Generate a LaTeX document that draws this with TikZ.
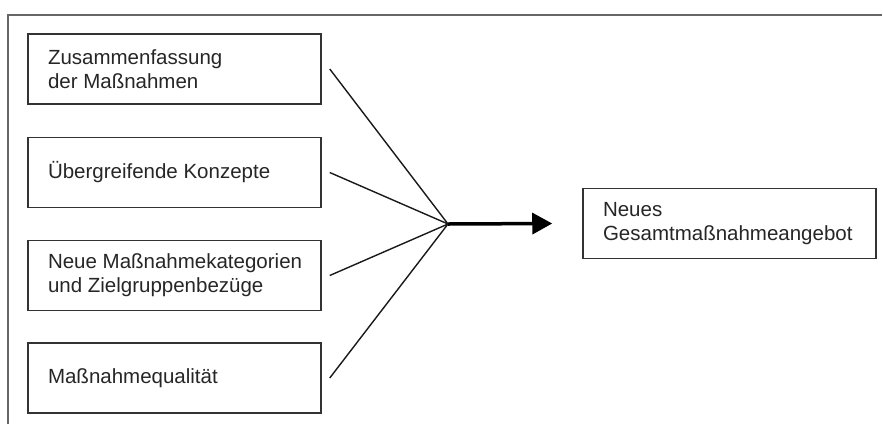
\documentclass[tikz,border=0pt]{standalone}
\usepackage{fontspec}
\setmainfont{Liberation Sans}
\usetikzlibrary{arrows.meta}
\tikzset{
  box/.style={draw=black!80, line width=1.5pt, minimum height=70pt, text width=253pt,
    inner xsep=20pt, align=flush left, font=\fontsize{20.5}{24}\selectfont, text=black!85},
  ray/.style={line width=1.4pt, black!90}
}
\begin{document}
\begin{tikzpicture}[x=1pt,y=-1pt,line cap=butt]
 \useasboundingbox (0,0) rectangle (883,424);
 % frame
 \draw[black!60, line width=1.5pt] (8,424) -- (8,15) -- (882,15);
 % boxes left
 \node[box] (zus) at (174.5,69) {Zusammenfassung\\der Maßnahmen};
 \node[box] (ueb) at (174.5,172.5) {Übergreifende Konzepte};
 \node[box] (kat) at (174.5,275.5) {\mbox{Neue Maßnahmekategorien}\\und Zielgruppenbezüge};
 \node[box] (qua) at (174.5,378) {Maßnahmequalität};
 % box right
 \node[box] (neu) at (729.5,223.5) {Neues\\Gesamtmaßnahmeangebot};
 \coordinate (hub) at (448,224);
 % lines
 \foreach \b in {zus,ueb,kat,qua}
   \draw[ray] ([xshift=8pt]\b.east) -- (hub);
 \draw[line width=3.5pt, -{Triangle[length=20pt,width=21pt]}] (hub) -- ([xshift=-30pt]neu.west);
\end{tikzpicture}
\end{document}
